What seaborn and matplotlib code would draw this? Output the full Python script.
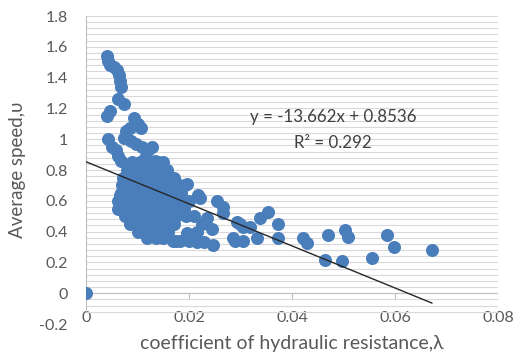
import numpy as np
import pandas as pd
import matplotlib
matplotlib.use("Agg")
import matplotlib.pyplot as plt
import seaborn as sns
from matplotlib.ticker import FixedLocator

# ---- data ----
lam = [
    0.0041, 0.0043, 0.0047, 0.0054, 0.0060, 0.0064, 0.0066, 0.0068, 0.0062, 0.0074,
    0.0041, 0.0047, 0.0093, 0.0101, 0.0107,
    0.0043, 0.0050, 0.0058, 0.0062, 0.0068, 0.0078, 0.0085, 0.0074, 0.0087, 0.0097,
    0.0109, 0.0120, 0.0128, 0.0115, 0.0134, 0.0072, 0.0066, 0.0062,
    0.0090, 0.0105, 0.0120, 0.0140, 0.0150,
    0.0080, 0.0095, 0.0110, 0.0130, 0.0145, 0.0158,
    0.0085, 0.0100, 0.0115, 0.0125, 0.0140, 0.0160, 0.0170,
    0.0070, 0.0090, 0.0105, 0.0120, 0.0135, 0.0150, 0.0165, 0.0180, 0.0192,
    0.0068, 0.0080, 0.0095, 0.0110, 0.0125, 0.0140, 0.0155, 0.0170, 0.0185,
    0.0062, 0.0075, 0.0090, 0.0105, 0.0120, 0.0135, 0.0150, 0.0165, 0.0180, 0.0200,
    0.0068, 0.0080, 0.0095, 0.0110, 0.0125, 0.0140, 0.0155, 0.0170, 0.0190,
    0.0075, 0.0088, 0.0100, 0.0115, 0.0130, 0.0145, 0.0160, 0.0175, 0.0195,
    0.0085, 0.0098, 0.0112, 0.0125, 0.0140, 0.0155, 0.0170,
    0.0100, 0.0115, 0.0130, 0.0145, 0.0160,
    0.0118, 0.0135, 0.0150,
    0.0144, 0.0157, 0.0177, 0.0196, 0.0217, 0.0221, 0.0254, 0.0266, 0.0266,
    0.0293, 0.0305, 0.0318, 0.0300, 0.0338, 0.0353, 0.0373, 0.0373, 0.0235, 0.0210,
    0.0225, 0.0245, 0.0215, 0.0196, 0.0150, 0.0169, 0.0183, 0.0216, 0.0200, 0.0230,
    0.0247, 0.0285, 0.0290, 0.0305, 0.0332, 0.0175,
    0.0421, 0.0429, 0.0470, 0.0503, 0.0509, 0.0464, 0.0497, 0.0555, 0.0584, 0.0598, 0.0672,
    0.0,
]
speed = [
    1.54, 1.51, 1.48, 1.47, 1.45, 1.42, 1.38, 1.34, 1.26, 1.23,
    1.15, 1.18, 1.14, 1.10, 1.07,
    1.00, 0.95, 0.93, 0.89, 0.86, 1.05, 1.07, 1.01, 0.99, 0.97,
    0.95, 0.93, 0.95, 0.88, 0.86, 0.75, 0.64, 0.55,
    0.85, 0.85, 0.85, 0.85, 0.85,
    0.80, 0.80, 0.80, 0.80, 0.80, 0.80,
    0.75, 0.75, 0.75, 0.75, 0.75, 0.75, 0.75,
    0.70, 0.70, 0.70, 0.70, 0.70, 0.70, 0.70, 0.70, 0.70,
    0.65, 0.65, 0.65, 0.65, 0.65, 0.65, 0.65, 0.65, 0.65,
    0.60, 0.60, 0.60, 0.60, 0.60, 0.60, 0.60, 0.60, 0.60, 0.60,
    0.55, 0.55, 0.55, 0.55, 0.55, 0.55, 0.55, 0.55, 0.55,
    0.50, 0.50, 0.50, 0.50, 0.50, 0.50, 0.50, 0.50, 0.50,
    0.45, 0.45, 0.45, 0.45, 0.45, 0.45, 0.45,
    0.40, 0.40, 0.40, 0.40, 0.40,
    0.36, 0.36, 0.36,
    0.84, 0.79, 0.71, 0.71, 0.64, 0.62, 0.60, 0.56, 0.52,
    0.46, 0.43, 0.43, 0.45, 0.49, 0.53, 0.45, 0.36, 0.49, 0.50,
    0.45, 0.42, 0.40, 0.39, 0.45, 0.34, 0.34, 0.33, 0.34, 0.33,
    0.31, 0.36, 0.34, 0.34, 0.36, 0.34,
    0.36, 0.325, 0.38, 0.41, 0.365, 0.215, 0.21, 0.227, 0.377, 0.30, 0.28,
    0.0,
]
slope = -13.662
intercept = 0.8536
r_squared = 0.292

x_ticks = [0, 0.02, 0.04, 0.06, 0.08]
x_labels = ["0", "0.02", "0.04", "0.06", "0.08"]
y_ticks = [-0.2, 0, 0.2, 0.4, 0.6, 0.8, 1.0, 1.2, 1.4, 1.6, 1.8]
y_labels = ["-0.2", "0", "0.2", "0.4", "0.6", "0.8", "1", "1.2", "1.4", "1.6", "1.8"]

x_title = "coefficient of hydraulic resistance,λ"
y_title = "Average speed,υ"

# ---- style ----
BLUE = "#4A7EBB"
GRID = "#d9d9d9"
AXIS = "#bfbfbf"
TEXT = "#595959"

sns.set_style("white")
plt.rcParams['font.family'] = ['Lato', 'DejaVu Sans']

df = pd.DataFrame({"lam": lam, "speed": speed})

fig = plt.figure(figsize=(5.16, 3.56), dpi=100)
ax = fig.add_axes([86 / 516, 1 - 324 / 356, 412 / 516, 308 / 356])

sns.scatterplot(data=df, x="lam", y="speed", color=BLUE, s=88,
                edgecolor=BLUE, linewidth=0, ax=ax, zorder=3)

xs = np.array([0.0, max(lam)])
ax.plot(xs, slope * xs + intercept, color="#262626", lw=1.0, zorder=4)

ax.set_xlim(0, 0.08)
ax.set_ylim(-0.2, 1.8)

ax.set_xticks(x_ticks)
ax.set_xticklabels(x_labels)
ax.set_yticks(y_ticks)
ax.set_yticklabels(y_labels)
minor = [v for v in np.arange(-0.12, 1.801, 0.04)
         if abs(v / 0.2 - round(v / 0.2)) > 1e-6]
ax.yaxis.set_minor_locator(FixedLocator(minor))

ax.grid(axis="y", which="both", color=GRID, lw=0.8, zorder=0)
ax.grid(axis="x", visible=False)
ax.set_axisbelow(True)
ax.get_ygridlines()[0].set_visible(False)

for s in ["top", "right", "bottom"]:
    ax.spines[s].set_visible(False)
ax.spines["left"].set_color(AXIS)
ax.spines["left"].set_linewidth(0.8)
ax.spines["left"].set_bounds(-0.12, 1.8)

ax.tick_params(axis="y", which="major", direction="out", length=6, width=0.8,
               color=AXIS, labelcolor=TEXT, labelsize=11.5, pad=7)
ax.tick_params(axis="y", which="minor", length=0)
ax.yaxis.get_major_ticks()[0].tick1line.set_visible(False)
ax.tick_params(axis="x", length=0, labelcolor=TEXT, labelsize=11.5, pad=-9)

# horizontal axis line at y=0 with small tick marks
ax.axhline(0, color=AXIS, lw=0.8, zorder=2)
ax.vlines(x_ticks[1:], -0.035, 0, color=AXIS, lw=0.8, zorder=2)

ax.set_xlabel(x_title, fontsize=14, color=TEXT)
ax.set_ylabel(y_title, fontsize=13.5, color=TEXT)
ax.xaxis.set_label_coords(0.5, -0.035)
ax.yaxis.set_label_coords(-0.145, 0.5)

ax.text(0.048, 1.143, f"y = {slope}x + {intercept}", ha="center", va="center",
        fontsize=12.2, color="#404040", zorder=5)
ax.text(0.048, 0.974, f"R² = {r_squared}", ha="center", va="center",
        fontsize=12.2, color="#404040", zorder=5)

fig.savefig("out.png", dpi=100)
